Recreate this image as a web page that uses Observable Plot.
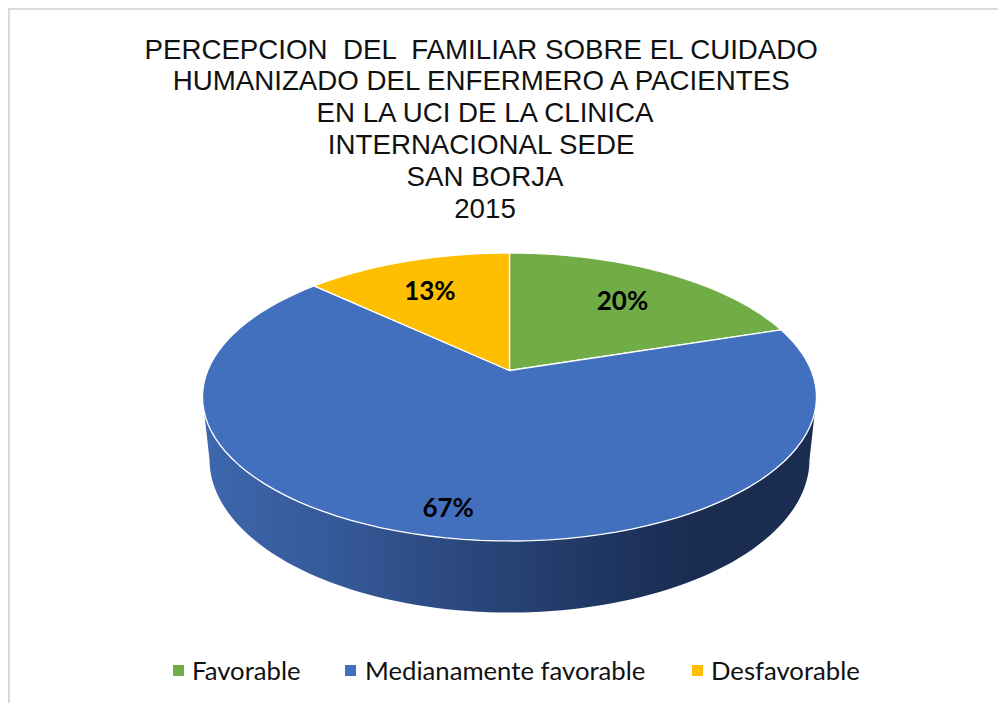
<!DOCTYPE html>
<html lang="es">
<head>
<meta charset="utf-8">
<script src="https://cdn.jsdelivr.net/npm/d3@7"></script>
<script src="https://cdn.jsdelivr.net/npm/@observablehq/plot@0.6"></script>
<style>
  html, body { margin: 0; padding: 0; background: #fff; }
  #page { position: relative; width: 998px; height: 703px; overflow: hidden; }
  #frame { position: absolute; left: 8px; top: 8px; width: 1100px; height: 800px; border: 2px solid #d9d9d9; box-sizing: border-box; }
  #title { position: absolute; left: 0; top: 33.5px; width: 970px; text-align: center; white-space: pre;
           font: 27.7px/31.9px "Liberation Sans", Arial, sans-serif; color: #111; }
  #chart { position: absolute; left: 0; top: 228px; }
  #chart svg { display: block; background: transparent; }
  #legend { position: absolute; left: 0; top: 655px; height: 30px; font: 25.7px/30px Lato, sans-serif; color: #111; }
  #legend span.item { position: absolute; white-space: nowrap; }
  #legend i { position: absolute; top: 10px; width: 11px; height: 11px; }
</style>
</head>
<body>
<div id="page">
  <div id="frame"></div>
  <div id="title"></div>
  <div id="chart"></div>
  <div id="legend"></div>
</div>
<script>
const titleLines = [
  "PERCEPCION  DEL  FAMILIAR SOBRE EL CUIDADO ",
  "HUMANIZADO DEL ENFERMERO A PACIENTES ",
  "EN LA UCI DE LA CLINICA",
  "INTERNACIONAL SEDE ",
  "SAN BORJA",
  "2015"
];
const categories = ["Favorable", "Medianamente favorable", "Desfavorable"];
const percentages = [20, 67, 13];
const colors = ["#70ad47", "#4270bf", "#fdbf00"];
const wallShades = ["#3e67ad", "#365a9b", "#2c4a80", "#213a68", "#1a2c50", "#1a2c50"];

// Layout of the tilted disc (pixels in the page), used only to set the scales
const W = 998, H = 412, TOP = 228;
const CX = 509, CY = 396.5, RX = 307, RY = 144;
const TILT = 0.184;               // perspective shift of the pie centre
const DEPTH_DY = 62.5 / 144, DEPTH_RX = 300 / 307, DEPTH_RY = 153 / 144;
const labelRadius = [0.685, 0.855, 0.70];
const labelTurn = [1, -1, -1.5];

// Perspective projection of a flat unit circle on to the tilted disc
function project(r, deg) {
  const a = deg * Math.PI / 180, px = r * Math.sin(a), py = r * Math.cos(a), d = 1 + TILT * py;
  return { x: px * Math.sqrt(1 - TILT * TILT) / d, y: (py + TILT) / d };
}

const total = d3.sum(percentages);
let acc = 0;
const slices = [], labels = [];
percentages.forEach((v, i) => {
  const a0 = acc / total * 360, a1 = (acc + v) / total * 360;
  acc += v;
  slices.push({ ...project(0, 0), k: i });
  for (let a = a0; a <= a1 + 1e-9; a += (a1 - a0) / 90) slices.push({ ...project(1, a), k: i });
  labels.push({ ...project(labelRadius[i], (a0 + a1) / 2 + labelTurn[i]), text: v + "%" });
});

// Side wall: visible lower half of the disc extruded downward
const wall = [];
d3.range(0, 181, 2).forEach(t => {
  const a = t * Math.PI / 180;
  wall.push({ x: -Math.cos(a), y: -Math.sin(a) });
});
d3.range(180, -1, -2).forEach(t => {
  const a = t * Math.PI / 180;
  wall.push({ x: -Math.cos(a) * DEPTH_RX, y: -Math.sin(a) * DEPTH_RY - DEPTH_DY });
});

const gradient = () => {
  const defs = d3.create("svg:defs");
  const g = defs.append("linearGradient").attr("id", "wallShade").attr("x1", 0).attr("x2", 1).attr("y1", 0).attr("y2", 0);
  wallShades.forEach((c, i) => g.append("stop").attr("offset", i / (wallShades.length - 1)).attr("stop-color", c));
  return defs.node();
};

const chart = Plot.plot({
  width: W, height: H, margin: 0,
  x: { domain: [-CX / RX, (W - CX) / RX], range: [0, W], axis: null },
  y: { domain: [(CY - TOP) / RY, (CY - TOP - H) / RY], range: [0, H], axis: null },
  marks: [
    gradient,
    Plot.line(wall, { x: "x", y: "y", fill: "url(#wallShade)", stroke: "none", curve: "linear-closed" }),
    Plot.line(slices, { x: "x", y: "y", z: "k", fill: d => colors[d.k], stroke: "#fff", strokeWidth: 1.3, curve: "linear-closed" }),
    Plot.text(labels, { x: "x", y: "y", text: "text", fill: "#000", fontSize: 26, fontWeight: 700, fontFamily: "Lato, sans-serif" })
  ]
});
document.getElementById("chart").append(chart);

document.getElementById("title").textContent = titleLines.join("\n");

const legendText = [192, 365, 711], legendBox = [173, 345, 692];
const legend = document.getElementById("legend");
categories.forEach((c, i) => {
  const box = document.createElement("i");
  box.style.left = legendBox[i] + "px";
  box.style.background = colors[i];
  legend.append(box);
  const t = document.createElement("span");
  t.className = "item";
  t.style.left = legendText[i] + "px";
  t.textContent = c;
  legend.append(t);
});
</script>
</body>
</html>
